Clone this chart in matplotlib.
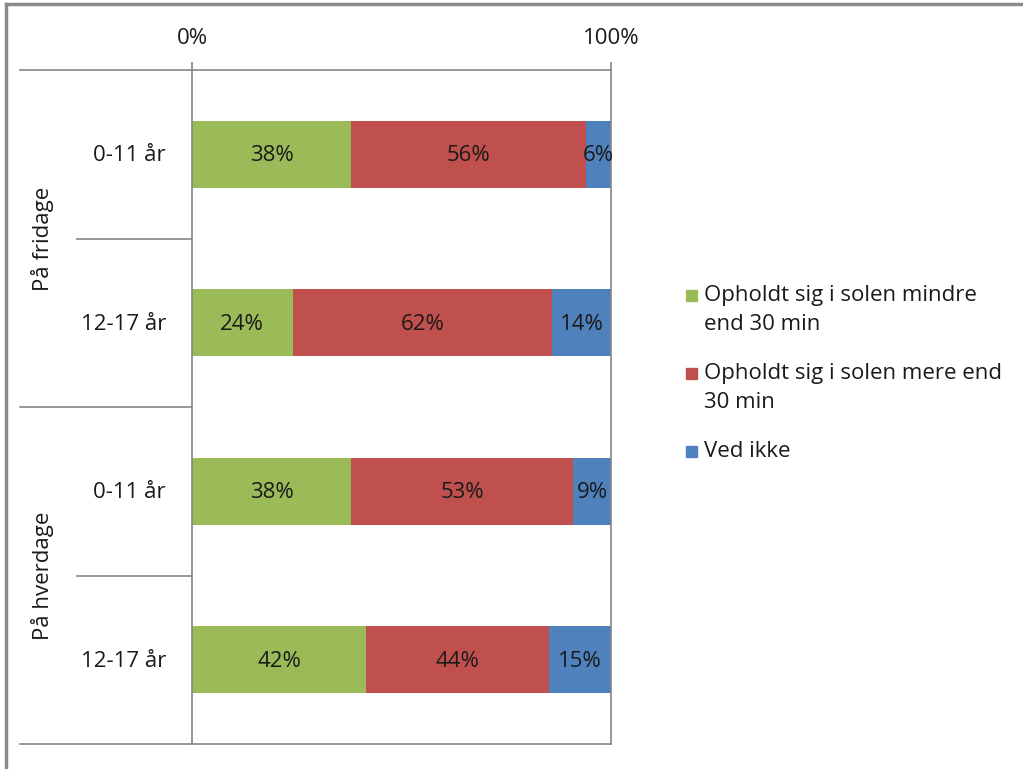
import matplotlib.pyplot as plt
import matplotlib.transforms as mtransforms
from matplotlib.patches import Rectangle
import numpy as np

plt.rcParams['font.family'] = ['Open Sans', 'DejaVu Sans']

# Data (top to bottom)
groups = ['På fridage', 'På hverdage']
ages = ['0-11 år', '12-17 år', '0-11 år', '12-17 år']
series = ['Opholdt sig i solen mindre\nend 30 min',
          'Opholdt sig i solen mere end\n30 min',
          'Ved ikke']
less_30 = [38, 24, 38, 42]
more_30 = [56, 62, 53, 44]
dont_know = [6, 14, 9, 15]
colors = ['#9BBB59', '#C0504D', '#4F81BD']

values = np.array([less_30, more_30, dont_know], dtype=float)
shares = values / values.sum(axis=0)

W, H = 1023, 769
fig = plt.figure(figsize=(W / 100, H / 100), dpi=100)
ax = fig.add_axes([192 / W, 1 - 744 / H, (611 - 192) / W, (744 - 70) / H])

line_col = '#868686'
text_col = '#1a1a1a'
fs = 16

y = np.arange(len(ages))
left = np.zeros(len(ages))
for i in range(len(series)):
    ax.barh(y, shares[i], left=left, height=0.4, color=colors[i])
    for j in range(len(ages)):
        ax.text(left[j] + shares[i][j] / 2, y[j] + 0.01, f'{int(values[i][j])}%',
                ha='center', va='center', fontsize=fs, color=text_col)
    left += shares[i]

ax.set_xlim(0, 1)
ax.set_ylim(len(ages) - 0.5, -0.5)
ax.xaxis.tick_top()
ax.set_xticks([0, 1])
ax.set_xticklabels(['0%', '100%'], fontsize=fs, color=text_col)
ax.tick_params(axis='x', length=6, color=line_col, width=1.2, pad=9)
ax.set_yticks([])
for s in ax.spines.values():
    s.set_color(line_col)
    s.set_linewidth(1.2)

# category axis labels and divisions
trans = mtransforms.blended_transform_factory(ax.transAxes, ax.transData)
x_outer = (20 - 192) / 419
x_inner = (77 - 192) / 419
x_age = (166 - 192) / 419
x_grp = (42 - 192) / 419
for j, a in enumerate(ages):
    ax.text(x_age, y[j] + 0.01, a, ha='right', va='center', fontsize=fs,
            color=text_col, transform=trans)
for b in [0.5, 2.5]:
    ax.plot([x_inner, 0], [b, b], color=line_col, lw=1.2,
            transform=trans, clip_on=False)
for b in [-0.5, 1.5, 3.5]:
    ax.plot([x_outer, 0], [b, b], color=line_col, lw=1.2,
            transform=trans, clip_on=False)
for g, name in enumerate(groups):
    ax.text(x_grp, 2 * g + 0.5, name, rotation=90, ha='center', va='center',
            fontsize=fs, color=text_col, transform=trans)

# legend
leg_y = [295, 373, 451]
for i, name in enumerate(series):
    fig.patches.append(Rectangle((686 / W, 1 - (leg_y[i] + 6) / H), 11 / W, 11 / H,
                                 transform=fig.transFigure, color=colors[i]))
    fig.text(704 / W, 1 - (leg_y[i] - 10) / H, name, ha='left', va='top',
             fontsize=fs, color=text_col, linespacing=1.5)

# chart border (left and top)
fig.add_artist(plt.Line2D([5.5 / W, 5.5 / W], [0, 1 - 3.5 / H], color='#8a8a8a', lw=2.5))
fig.add_artist(plt.Line2D([5.5 / W, 1], [1 - 3.5 / H, 1 - 3.5 / H], color='#8a8a8a', lw=2.5))

fig.savefig('out.png', dpi=100)
